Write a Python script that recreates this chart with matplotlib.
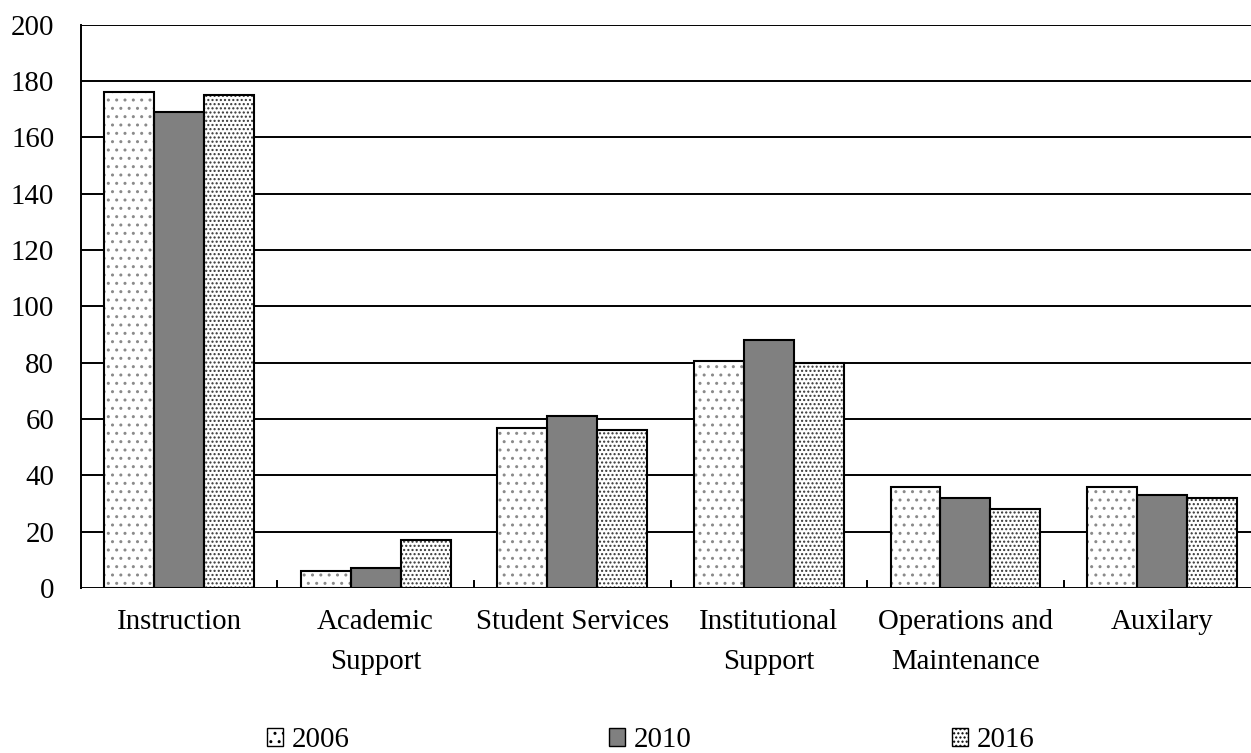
import matplotlib.pyplot as plt
import numpy as np
from matplotlib.patches import Patch

plt.rcParams['font.family'] = ['Liberation Serif', 'DejaVu Serif']

# Expenditure categories and values per year
categories = ["Instruction", "Academic\nSupport", "Student Services",
              "Institutional\nSupport", "Operations and\nMaintenance", "Auxilary"]
years = ["2006", "2010", "2016"]
vals_2006 = [176, 6, 57, 80.5, 36, 36]
vals_2010 = [169, 7, 61, 88, 32, 33]
vals_2016 = [175, 17, 56, 80, 28, 32]

series = [vals_2006, vals_2010, vals_2016]
faces = ["white", "#808080", "white"]
hatches = ["..", None, "...."]
hatch_cols = ["#8a8a8a", "#808080", "#353535"]

fig = plt.figure(figsize=(12.51, 7.53), dpi=100)
ax = fig.add_axes([0.0645, 0.219, 0.943, 0.748])

x = np.arange(len(categories))
w = 0.254
for i, (vals, fc, h, hc) in enumerate(zip(series, faces, hatches, hatch_cols)):
    pos = x + (i - 1) * w
    # hatch drawn first, black outline on top
    ax.bar(pos, vals, w, color=fc, edgecolor=hc if h else fc,
           hatch=h, linewidth=0, zorder=3)
    ax.bar(pos, vals, w, fill=False, edgecolor="black", linewidth=1.5, zorder=4)

ax.set_ylim(0, 200)
ax.set_xlim(-0.5, len(categories) - 0.5)
ax.set_yticks(range(0, 201, 20))
for yv in range(0, 201, 20):
    ax.axhline(yv, color="black", linewidth=1.4, zorder=1)

for s in ["top", "right", "bottom"]:
    ax.spines[s].set_visible(False)
ax.spines["left"].set_linewidth(1.4)

ax.set_xticks(x)
ax.set_xticklabels(categories, fontsize=20.8, linespacing=1.72)
ax.tick_params(axis="x", length=0, pad=15)
ax.tick_params(axis="y", length=0, pad=19, labelsize=20.8)

# small upward ticks at category boundaries
for b in np.arange(0.5, len(categories) - 0.5, 1.0):
    ax.plot([b, b], [0, 2.5], color="black", linewidth=1.4, zorder=2)

handles = [Patch(facecolor="white", edgecolor="black", hatch=".."),
           Patch(facecolor="#808080", edgecolor="black"),
           Patch(facecolor="white", edgecolor="black", hatch="....")]
fig.legend(handles, years, loc="center", bbox_to_anchor=(0.52, 0.017),
           ncol=3, frameon=False, fontsize=20.8, handlelength=0.55,
           handleheight=0.55, handletextpad=0.3, columnspacing=9.0)

fig.savefig("out.png", dpi=100)
